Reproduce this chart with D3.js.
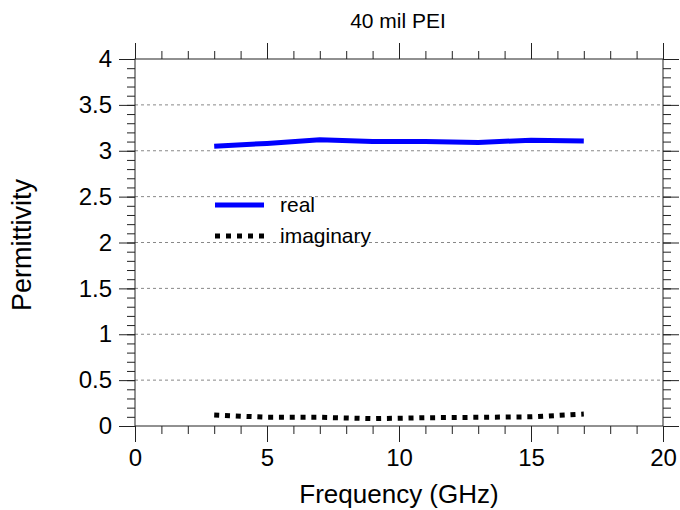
<!DOCTYPE html>
<html>
<head>
<meta charset="utf-8">
<script src="https://cdn.jsdelivr.net/npm/d3@7"></script>
<style>
  body { margin: 0; background: #fff; }
  svg { display: block; font-family: "Liberation Sans", Arial, Helvetica, sans-serif; }
  .axis path.domain { display: none; }
  .axis line { stroke: #222; }
  .axis text { fill: #000; font-size: 24px; }
</style>
</head>
<body>
<svg id="chart" width="680" height="510"></svg>
<script>
const frequency = [3, 5, 7, 9, 11, 13, 15, 17];
const realPart = [3.05, 3.08, 3.12, 3.10, 3.10, 3.09, 3.115, 3.105];
const imagPart = [0.12, 0.095, 0.095, 0.08, 0.09, 0.095, 0.10, 0.13];

const xMajor = [0, 5, 10, 15, 20];
const xMinor = d3.range(0, 21, 1);
const yMajor = [0, 0.5, 1, 1.5, 2, 2.5, 3, 3.5, 4];
const yMinor = d3.range(0, 41, 1).map((d) => d / 10);
const gridValues = [0.5, 1, 1.5, 2, 2.5, 3, 3.5];

const svg = d3.select("#chart");
const margin = { left: 135, right: 17, top: 59, bottom: 84 };
const width = 680 - margin.left - margin.right;
const height = 510 - margin.top - margin.bottom;

const x = d3.scaleLinear().domain([0, 20]).range([margin.left, margin.left + width]);
const y = d3.scaleLinear().domain([0, 4]).range([margin.top + height, margin.top]);

// dotted horizontal grid
svg
  .append("g")
  .selectAll("line")
  .data(gridValues)
  .join("line")
  .attr("x1", x(0))
  .attr("x2", x(20))
  .attr("y1", (d) => y(d))
  .attr("y2", (d) => y(d))
  .attr("stroke", "#888")
  .attr("stroke-width", 1)
  .attr("stroke-dasharray", "3,3");

const fmt = d3.format("~g");
const addAxis = (axisFn, scale, values, size, transform, labels) => {
  const axis = axisFn(scale)
    .tickValues(values)
    .tickSize(size)
    .tickSizeOuter(0)
    .tickPadding(labels ? 7 : 0)
    .tickFormat(labels ? fmt : "");
  svg.append("g").attr("class", "axis").attr("transform", transform).call(axis);
};

const bottomT = `translate(0,${y(0)})`;
const topT = `translate(0,${y(4)})`;
const leftT = `translate(${x(0)},0)`;
const rightT = `translate(${x(20)},0)`;

addAxis(d3.axisBottom, x, xMinor, 8, bottomT, false);
addAxis(d3.axisBottom, x, xMajor, 16, bottomT, true);
addAxis(d3.axisTop, x, xMinor, 8, topT, false);
addAxis(d3.axisTop, x, xMajor, 16, topT, false);
addAxis(d3.axisLeft, y, yMinor, 8, leftT, false);
addAxis(d3.axisLeft, y, yMajor, 16, leftT, true);
addAxis(d3.axisRight, y, yMinor, 8, rightT, false);
addAxis(d3.axisRight, y, yMajor, 16, rightT, false);

// frame
svg
  .append("rect")
  .attr("x", x(0))
  .attr("y", y(4))
  .attr("width", width)
  .attr("height", height)
  .attr("fill", "none")
  .attr("stroke", "#222")
  .attr("stroke-width", 1);

const line = (values) =>
  d3
    .line()
    .x((d, i) => x(frequency[i]))
    .y((d) => y(d))(values);

svg
  .append("path")
  .attr("d", line(realPart))
  .attr("fill", "none")
  .attr("stroke", "#0000ff")
  .attr("stroke-width", 5);

svg
  .append("path")
  .attr("d", line(imagPart))
  .attr("fill", "none")
  .attr("stroke", "#000")
  .attr("stroke-width", 5)
  .attr("stroke-dasharray", "5,5.8");

// legend
const legend = [
  { label: "real", color: "#0000ff", dash: null, y: 205 },
  { label: "imaginary", color: "#000", dash: "5,6", y: 236 },
];
const lg = svg.append("g");
legend.forEach((item) => {
  lg.append("line")
    .attr("x1", 215)
    .attr("x2", 264)
    .attr("y1", item.y)
    .attr("y2", item.y)
    .attr("stroke", item.color)
    .attr("stroke-width", 5)
    .attr("stroke-dasharray", item.dash);
  lg.append("text")
    .attr("x", 280)
    .attr("y", item.y + 7)
    .attr("font-size", 21)
    .text(item.label);
});

// titles
svg
  .append("text")
  .attr("x", 398)
  .attr("y", 28)
  .attr("text-anchor", "middle")
  .attr("font-size", 21)
  .text("40 mil PEI");

svg
  .append("text")
  .attr("x", 399)
  .attr("y", 503)
  .attr("text-anchor", "middle")
  .attr("font-size", 26)
  .text("Frequency (GHz)");

svg
  .append("text")
  .attr("transform", "translate(31,245) rotate(-90)")
  .attr("text-anchor", "middle")
  .attr("font-size", 27)
  .text("Permittivity");
</script>
</body>
</html>
